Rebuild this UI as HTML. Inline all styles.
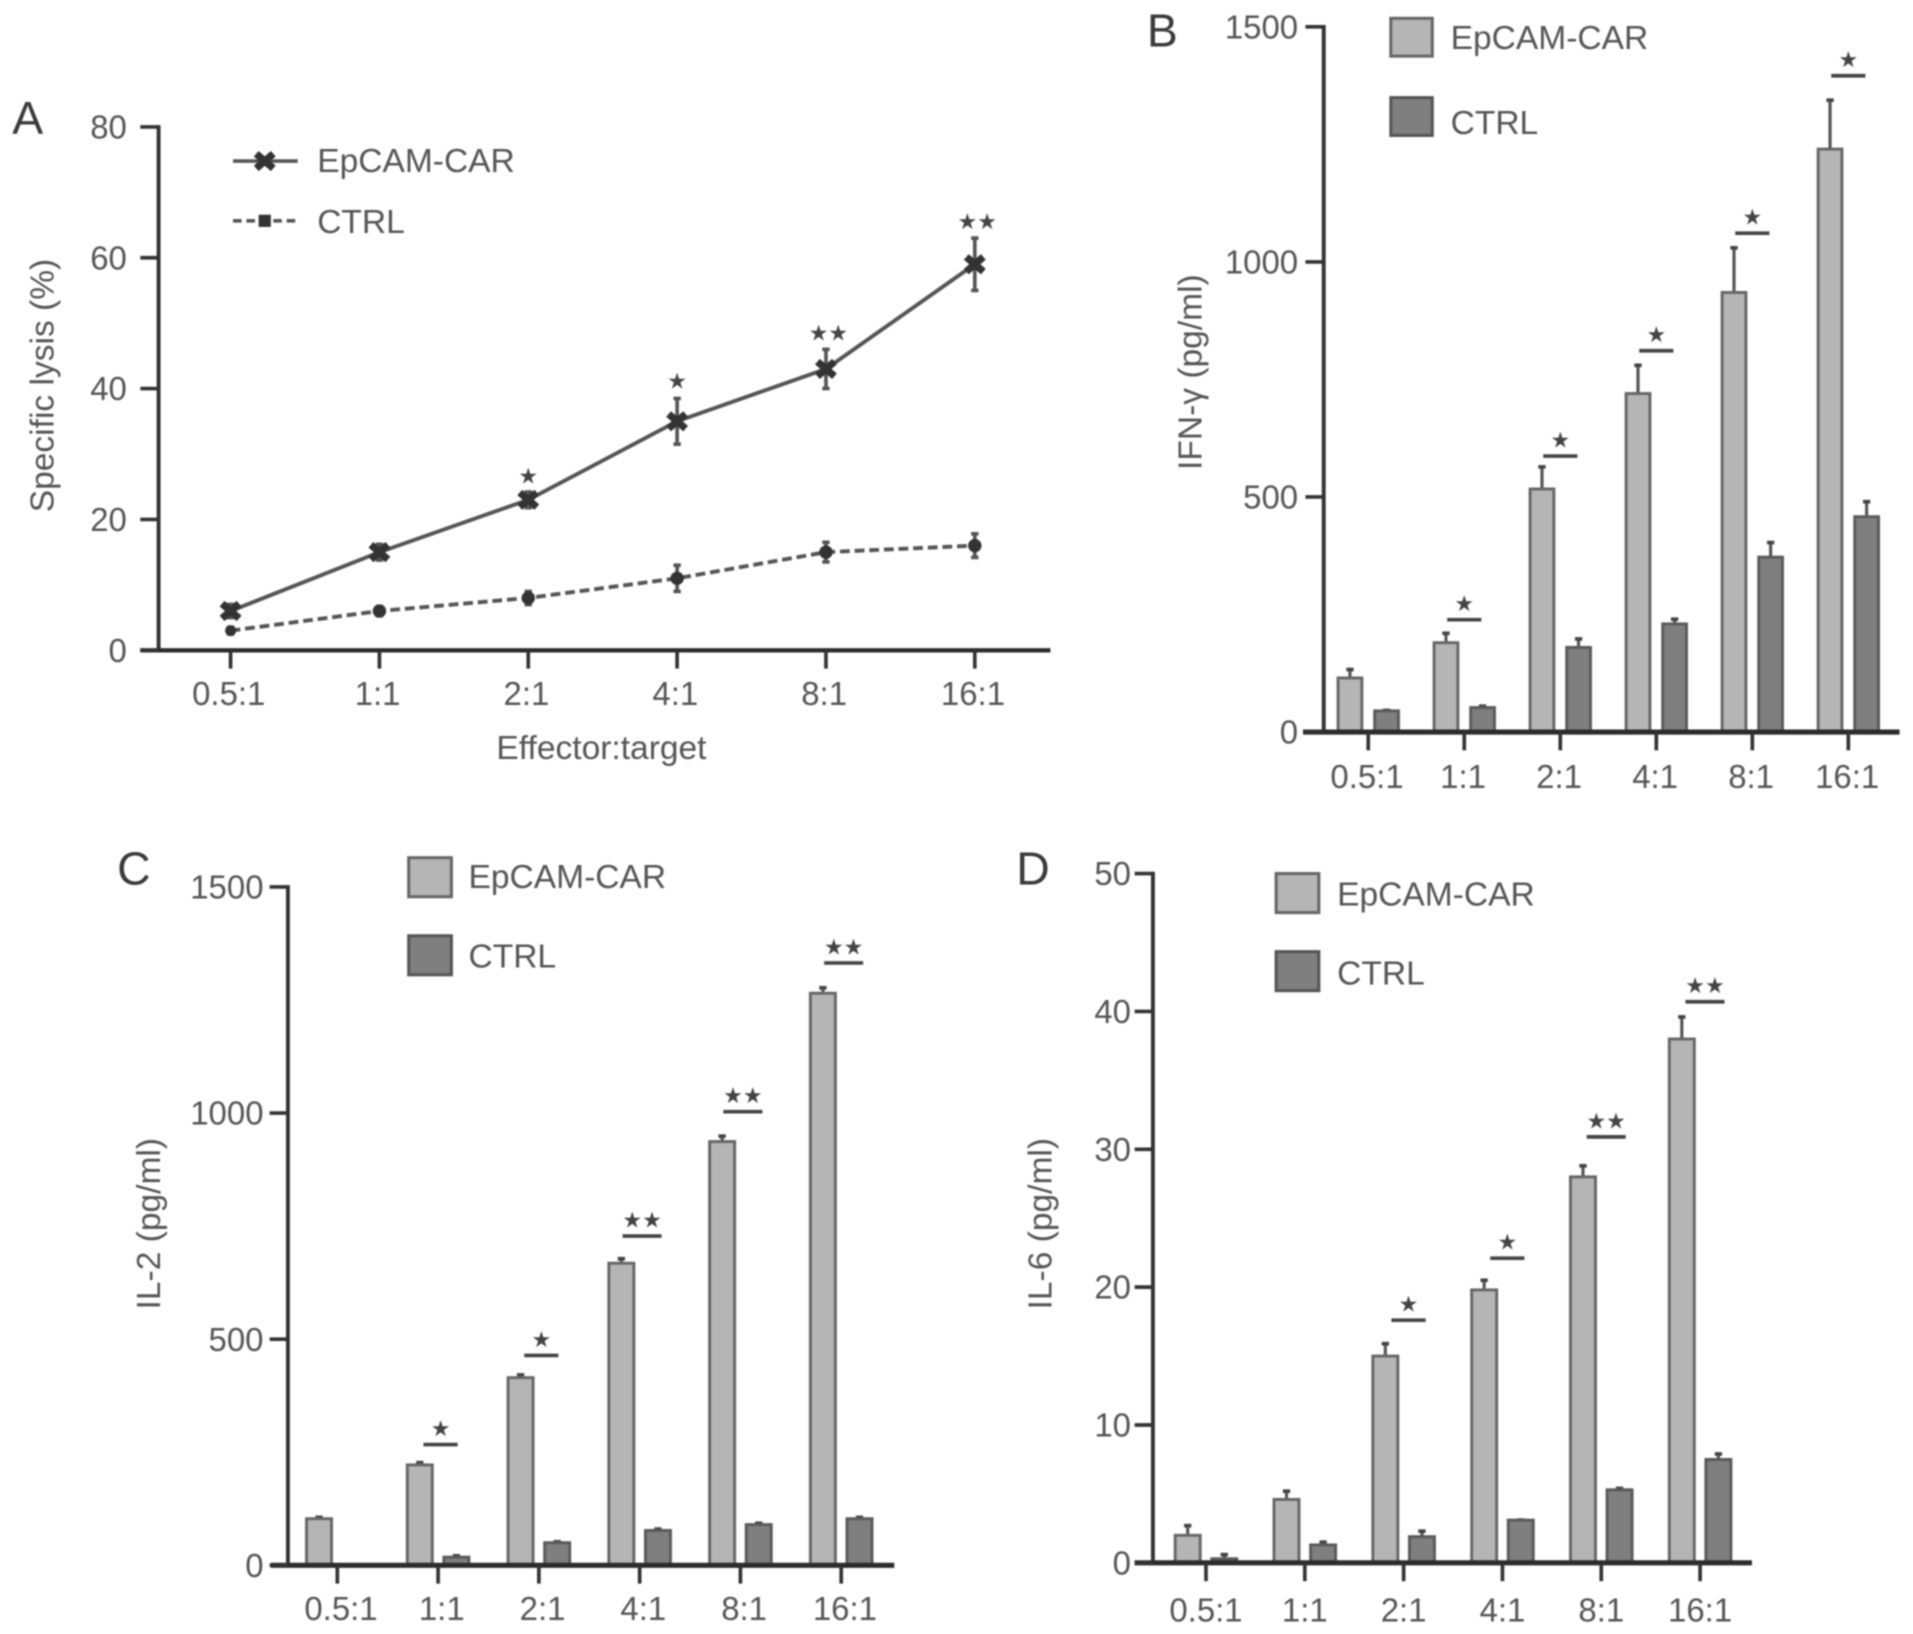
<!DOCTYPE html>
<html lang="en">
<head>
<meta charset="utf-8">
<title>EpCAM-CAR specific lysis and cytokine release</title>
<style>
html,body{margin:0;padding:0;background:#fff;}
svg{display:block;filter:blur(0.8px);}
text{font-family:"Liberation Sans",Arial,sans-serif;fill:#555;}
.leg{font-size:27.5px;}
.ttl{font-size:27.5px;}
.let{font-size:38px;fill:#3a3a3a;}
.star{font-family:"DejaVu Sans",sans-serif;fill:#444;}
</style>
</head>
<body>
<svg id="fig" xmlns="http://www.w3.org/2000/svg" width="1913" height="1634" viewBox="0 0 1568 1339.3">
  <rect width="1568" height="1340" fill="#fff"/>

  <text class="let" x="10" y="110">A</text>
  <text class="let" x="940" y="38">B</text>
  <text class="let" x="96" y="725">C</text>
  <text class="let" x="833" y="725">D</text>

  <text class="ttl" text-anchor="middle" transform="translate(44,316) rotate(-90)">Specific lysis (%)</text>
  <text class="ttl" text-anchor="middle" x="493" y="622">Effector:target</text>
  <text class="ttl" text-anchor="middle" transform="translate(985,305) rotate(-90)">IFN-γ (pg/ml)</text>
  <text class="ttl" text-anchor="middle" transform="translate(131,1003) rotate(-90)">IL-2 (pg/ml)</text>
  <text class="ttl" text-anchor="middle" transform="translate(862,1003) rotate(-90)">IL-6 (pg/ml)</text>

  <g>
    <line x1="191" x2="244" y1="132" y2="132" stroke="#555" stroke-width="3"/>
    <path d="M210 126L224 138M224 126L210 138" stroke="#333" stroke-width="6" fill="none"/>
    <text class="leg" x="260" y="141">EpCAM-CAR</text>
    <line x1="191" x2="244" y1="181" y2="181" stroke="#555" stroke-width="3" stroke-dasharray="7 4"/>
    <rect x="212" y="176" width="10" height="10" fill="#333"/>
    <text class="leg" x="260" y="191">CTRL</text>
  </g>
  <g>
    <rect x="1140" y="15" width="34" height="31" fill="#b5b5b5" stroke="#666" stroke-width="2.5"/>
    <text class="leg" x="1189" y="40">EpCAM-CAR</text>
    <rect x="1140" y="80" width="34" height="31" fill="#7f7f7f" stroke="#555" stroke-width="2.5"/>
    <text class="leg" x="1189" y="110">CTRL</text>
  </g>
  <g>
    <rect x="335" y="703" width="35" height="32" fill="#b5b5b5" stroke="#666" stroke-width="2.5"/>
    <text class="leg" x="384" y="728">EpCAM-CAR</text>
    <rect x="335" y="767" width="35" height="32" fill="#7f7f7f" stroke="#555" stroke-width="2.5"/>
    <text class="leg" x="384" y="793">CTRL</text>
  </g>
  <g>
    <rect x="1046" y="716" width="35" height="32" fill="#b5b5b5" stroke="#666" stroke-width="2.5"/>
    <text class="leg" x="1096" y="742">EpCAM-CAR</text>
    <rect x="1046" y="780" width="35" height="32" fill="#7f7f7f" stroke="#555" stroke-width="2.5"/>
    <text class="leg" x="1096" y="807">CTRL</text>
  </g>
</svg>
<script>
const categories = ['0.5:1', '1:1', '2:1', '4:1', '8:1', '16:1'];

const lysisTicks = [0, 20, 40, 60, 80];
const lysisCar = [6, 15, 23, 35, 43, 59];
const lysisCarErr = [1, 1.2, 1.2, 3.5, 3, 4];
const lysisCtrl = [3, 6, 8, 11, 15, 16];
const lysisCtrlErr = [0.5, 0.7, 1, 2, 1.5, 1.8];
const lysisSigLabels = ['', '', '★', '★', '★★', '★★'];
const lysisSigLevels = [0, 0, 26.5, 41, 48.4, 65.4];

const ifnTicks = [0, 500, 1000, 1500];
const ifnCar = [115, 190, 517, 720, 935, 1240];
const ifnCarTop = [133, 210, 564, 780, 1030, 1344];
const ifnCtrl = [45, 52, 180, 230, 372, 458];
const ifnCtrlTop = [46, 55, 198, 240, 403, 490];
const ifnSigLabels = ['', '★', '★', '★', '★', '★'];
const ifnSigLevels = [0, 239, 587, 811, 1061, 1396];

const il2Ticks = [0, 500, 1000, 1500];
const il2Car = [103, 222, 415, 668, 937, 1265];
const il2CarTop = [106, 227, 421, 678, 949, 1277];
const il2Ctrl = [0, 18, 50, 77, 90, 103];
const il2CtrlTop = [0, 21, 52, 80, 93, 106];
const il2SigLabels = ['', '★', '★', '★★', '★★', '★★'];
const il2SigLevels = [0, 267, 464, 728, 1003, 1332];

const il6Ticks = [0, 10, 20, 30, 40, 50];
const il6Car = [2, 4.6, 15, 19.8, 28, 38];
const il6CarTop = [2.7, 5.2, 15.9, 20.5, 28.8, 39.6];
const il6Ctrl = [0.3, 1.3, 1.9, 3.1, 5.3, 7.5];
const il6CtrlTop = [0.6, 1.5, 2.3, 3.1, 5.4, 7.9];
const il6SigLabels = ['', '', '★', '★', '★★', '★★'];
const il6SigLevels = [0, 0, 17.6, 22.1, 30.9, 40.7];

const svg = document.getElementById('fig');
const NS = 'http://www.w3.org/2000/svg';

function mk(tag, parent, attrs) {
  const el = document.createElementNS(NS, tag);
  for (const k in attrs) el.setAttribute(k, attrs[k]);
  parent.appendChild(el);
  return el;
}

function drawAxes(parent, L, yTicks) {
  const yAxis = mk('line', parent, {x1: L.axisX, x2: L.axisX, y1: L.yTop - 1.5, y2: L.yZero, stroke: '#333', 'stroke-width': 3.2});
  
  
  const xAxis = mk('line', parent, {x1: L.xStart, x2: L.xEnd, y1: L.yZero, y2: L.yZero, stroke: '#2c2c2c', 'stroke-width': L.xAxisWidth});
  
  
  yTicks.forEach(function (v) {
    const y = L.y(v);
    const t = mk('line', parent, {x1: L.axisX - 15, x2: L.axisX, y1: y, y2: y, stroke: '#333', 'stroke-width': 3});
    
    
    const lab = mk('text', parent, {x: L.axisX - L.tickPad, y: y + 9.5, 'text-anchor': 'end', 'font-size': 27});
    
    
    lab.textContent = String(v);
  });
  categories.forEach(function (c, i) {
    const x = L.x(i);
    const t = mk('line', parent, {x1: x, x2: x, y1: L.yZero, y2: L.yZero + 15, stroke: '#333', 'stroke-width': 3});
    
    
    const lab = mk('text', parent, {x: x + L.labelDx, y: L.labelY, 'text-anchor': 'middle', 'font-size': 27});
    
    
    lab.textContent = c;
  });
}

function makeLayout(o) {
  const yUnit = (o.yZero - o.yTop) / o.yMax;
  o.y = function (v) { return o.yZero - v * yUnit; };
  o.x = function (i) { return o.first + i * o.step; };
  return o;
}

function drawBarPanel(name, L, yTicks, car, carTop, ctrl, ctrlTop, sigLabels, sigLevels) {
  const g = mk('g', svg, {});
  
  
  function series(vals, tops, dx, fill, stroke, label) {
    vals.forEach(function (v, i) {
      if (v <= 0) return;
      const cx = L.x(i) + dx;
      const err = mk('line', g, {x1: cx, x2: cx, y1: L.y(tops[i]), y2: L.y(v), stroke: '#555', 'stroke-width': 2.6});
      
      
      const cap = mk('line', g, {x1: cx - 3, x2: cx + 3, y1: L.y(tops[i]), y2: L.y(tops[i]), stroke: '#444', 'stroke-width': 3});
      
      
      const bar = mk('rect', g, {x: cx - L.barW / 2, y: L.y(v), width: L.barW, height: L.yZero - L.y(v), fill: fill, stroke: stroke, 'stroke-width': 2.4});
      
      
    });
  }
  series(car, carTop, -15, '#b5b5b5', '#666', 'epcam-car');
  series(ctrl, ctrlTop, 15, '#7f7f7f', '#5a5a5a', 'ctrl');
  sigLabels.forEach(function (s, i) {
    if (!s) return;
    const cx = L.x(i) + L.sigDx;
    const y = L.y(sigLevels[i]);
    const half = s.length > 1 ? 16 : 14;
    const sb = mk('line', g, {x1: cx - half, x2: cx + half, y1: y, y2: y, stroke: '#444', 'stroke-width': 3});
    
    
    const st = mk('text', g, {x: cx, y: y - 7, 'text-anchor': 'middle', 'font-size': 18, class: 'star'});
    
    
    st.textContent = s;
  });
  drawAxes(g, L, yTicks);
}

function drawLinePanel() {
  const L = makeLayout({axisX: 130, xStart: 115, xEnd: 861, yTop: 104, yZero: 533, yMax: 80, first: 189, step: 122, labelY: 578, labelDx: -1.5, tickPad: 26, xAxisWidth: 3.6});
  const g = mk('g', svg, {});
  
  
  drawAxes(g, L, lysisTicks);
  function pts(vals) { return vals.map(function (v, i) { return L.x(i) + ',' + L.y(v); }).join(' '); }
  const ctrlLine = mk('polyline', g, {points: pts(lysisCtrl), fill: 'none', stroke: '#555', 'stroke-width': 3.2, 'stroke-dasharray': '8 4'});
  
  
  const carLine = mk('polyline', g, {points: pts(lysisCar), fill: 'none', stroke: '#555', 'stroke-width': 3.2});
  
  
  function errs(vals, es, label) {
    vals.forEach(function (v, i) {
      const x = L.x(i);
      const e = mk('path', g, {d: 'M' + x + ' ' + L.y(v + es[i]) + 'V' + L.y(v - es[i]) + 'M' + (x - 3) + ' ' + L.y(v + es[i]) + 'h6M' + (x - 3) + ' ' + L.y(v - es[i]) + 'h6', stroke: '#555', 'stroke-width': 3, fill: 'none'});
      
      
    });
  }
  errs(lysisCtrl, lysisCtrlErr, 'ctrl');
  errs(lysisCar, lysisCarErr, 'epcam-car');
  lysisCtrl.forEach(function (v, i) {
    const m = mk('circle', g, {cx: L.x(i), cy: L.y(v), r: i === 0 ? 4.5 : 5.5, fill: '#333'});
    
    
  });
  lysisCar.forEach(function (v, i) {
    const x = L.x(i), y = L.y(v);
    const m = mk('path', g, {d: 'M' + (x - 7) + ' ' + (y - 6) + 'L' + (x + 7) + ' ' + (y + 6) + 'M' + (x + 7) + ' ' + (y - 6) + 'L' + (x - 7) + ' ' + (y + 6), stroke: '#333', 'stroke-width': 6, fill: 'none'});
    
    
  });
  lysisSigLabels.forEach(function (s, i) {
    if (!s) return;
    const st = mk('text', g, {x: L.x(i) + (s.length > 1 ? 2 : 0), y: L.y(lysisSigLevels[i]) + 5.5, 'text-anchor': 'middle', 'font-size': 18, class: 'star'});
    
    
    st.textContent = s;
  });
}

drawLinePanel();
drawBarPanel('panel-b-bar-chart',
  makeLayout({axisX: 1085, xStart: 1068, xEnd: 1557, yTop: 22, yZero: 600, yMax: 1500, first: 1121.5, step: 78.7, labelY: 646, labelDx: -1, tickPad: 21, xAxisWidth: 4.2, barW: 19.5, sigDx: 0}),
  ifnTicks, ifnCar, ifnCarTop, ifnCtrl, ifnCtrlTop, ifnSigLabels, ifnSigLevels);
drawBarPanel('panel-c-bar-chart',
  makeLayout({axisX: 236, xStart: 222, xEnd: 733, yTop: 727, yZero: 1283, yMax: 1500, first: 276.5, step: 82.6, labelY: 1328, labelDx: 3, tickPad: 20, xAxisWidth: 4.2, barW: 20.5, sigDx: 2}),
  il2Ticks, il2Car, il2CarTop, il2Ctrl, il2CtrlTop, il2SigLabels, il2SigLevels);
drawBarPanel('panel-d-bar-chart',
  makeLayout({axisX: 945, xStart: 930, xEnd: 1436, yTop: 716, yZero: 1281, yMax: 50, first: 988.5, step: 81, labelY: 1329, labelDx: 0, tickPad: 18, xAxisWidth: 4.2, barW: 20.5, sigDx: 4}),
  il6Ticks, il6Car, il6CarTop, il6Ctrl, il6CtrlTop, il6SigLabels, il6SigLevels);
</script>
</body>
</html>
